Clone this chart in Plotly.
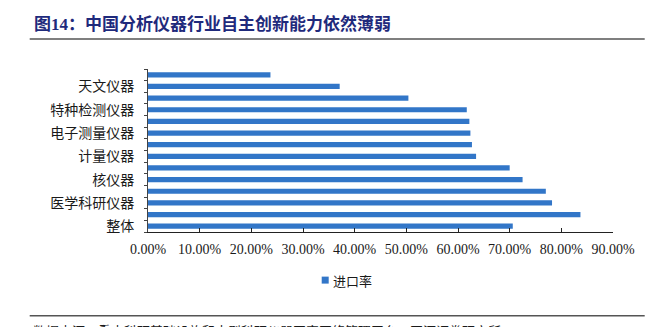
import plotly.graph_objects as go

# Import rate by instrument category (bottom to top on the chart)
categories = [
    "整体", "分析仪器", "医学科研仪器", "激光器", "核仪器", "物理性能测试仪器",
    "计量仪器", "海洋仪器", "电子测量仪器", "地球探测仪器", "特种检测仪器",
    "大气探测仪器", "天文仪器", "工艺试验仪器",
]
import_rate = [
    0.706, 0.837, 0.782, 0.770, 0.725, 0.700,
    0.635, 0.627, 0.624, 0.622, 0.617,
    0.504, 0.371, 0.237,
]
# Only every other category carries a visible label
shown_labels = ["整体", "医学科研仪器", "核仪器", "计量仪器", "电子测量仪器", "特种检测仪器", "天文仪器"]
x_ticks = [0.0, 0.1, 0.2, 0.3, 0.4, 0.5, 0.6, 0.7, 0.8, 0.9]

title_text = "图14：中国分析仪器行业自主创新能力依然薄弱"
source_text = "数据来源：重大科研基础设施和大型科研仪器国家网络管理平台，开源证券研究所"
series_name = "进口率"

W, H = 665, 327
L, R, T, B = 148.3, 51.7, 68.5, 95.2
PW, PH = W - L - R, H - T - B


def px(x):
    return (x - L) / PW


def py(y):
    return (H - B - y) / PH


BLUE = "#3276c8"
SERIF = '"Liberation Serif", "Times New Roman", "Noto Sans CJK SC", serif'
CJK = '"Noto Sans CJK SC", sans-serif'

fig = go.Figure()
fig.add_trace(go.Bar(
    x=import_rate, y=categories, orientation="h", name=series_name,
    marker=dict(color=BLUE, line=dict(width=0)),
    showlegend=False, hoverinfo="x+y",
))

fig.update_layout(
    width=W, height=H,
    margin=dict(l=L, r=R, t=T, b=B, autoexpand=False),
    paper_bgcolor="white", plot_bgcolor="white",
    bargap=0.55,
    font=dict(family=SERIF, size=13, color="#1a1a1a"),
    xaxis=dict(
        range=[0, 0.9], tickvals=x_ticks, tickformat=".2%",
        showgrid=False, zeroline=False,
        showline=True, linecolor="#222", linewidth=1,
        ticks="inside", ticklen=4, tickcolor="#222",
        tickfont=dict(family=SERIF, size=14, color="#1a1a1a"),
        ticklabelstandoff=4,
        fixedrange=True,
    ),
    yaxis=dict(
        type="category", categoryorder="array", categoryarray=categories,
        tickvals=categories,
        ticktext=[c if c in shown_labels else "" for c in categories],
        tickson="boundaries",
        showgrid=False, zeroline=False,
        showline=True, linecolor="#444", linewidth=1,
        ticks="outside", ticklen=3, tickcolor="#444",
        tickfont=dict(family=CJK, size=14, color="#1a1a1a"),
        ticklabelstandoff=10,
        fixedrange=True,
    ),
    shapes=[
        dict(type="line", xref="paper", yref="paper",
             x0=px(30), x1=px(645), y0=py(38.5), y1=py(38.5),
             line=dict(color="#555", width=1.5)),
        dict(type="line", xref="paper", yref="paper",
             x0=px(30), x1=px(645), y0=py(315.7), y1=py(315.7),
             line=dict(color="#555", width=1.5)),
        # legend swatch
        dict(type="rect", xref="paper", yref="paper",
             x0=px(322), x1=px(329), y0=py(283.5), y1=py(276.5),
             fillcolor=BLUE, line=dict(width=0)),
    ],
    annotations=[
        dict(text=f"<b>{title_text}</b>", xref="paper", yref="paper",
             x=px(32), y=py(23), xanchor="left", yanchor="middle",
             showarrow=False,
             font=dict(family=SERIF, size=17, color="#1f2a7c")),
        dict(text=series_name, xref="paper", yref="paper",
             x=px(331), y=py(280), xanchor="left", yanchor="middle",
             showarrow=False,
             font=dict(family=CJK, size=13, color="#1a1a1a")),
        dict(text=source_text, xref="paper", yref="paper",
             x=px(31), y=py(330), xanchor="left", yanchor="middle",
             showarrow=False,
             font=dict(family=CJK, size=13, color="#1a1a1a")),
    ],
)

fig.write_html("out.html", config=dict(displayModeBar=False))
